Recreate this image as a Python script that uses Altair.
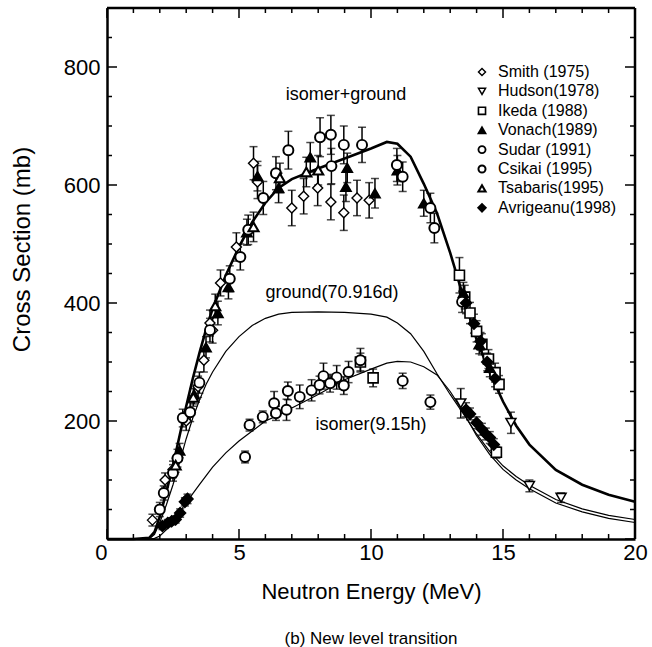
import altair as alt
import pandas as pd

# ---------------- model curves ----------------
E_curve = [0, 1.0, 1.6, 1.8, 2.0, 2.25, 2.5, 2.75, 3.0, 3.25, 3.5, 3.75, 4.0, 4.5, 5.0, 5.5,
           6.0, 6.5, 7.0, 8.0, 9.0, 10.0, 10.6, 11.0, 11.5, 12.0, 12.5, 13.0, 13.5, 14.0,
           14.5, 15.0, 15.5, 16.0, 17.0, 18.0, 19.0, 20.0]
sum_curve = [0, 0, 2, 12, 38, 80, 125, 175, 225, 272, 315, 355, 390, 447, 495, 537,
             570, 595, 610, 628, 645, 662, 673, 670, 648, 602, 552, 485, 410, 338,
             282, 233, 192, 160, 117, 92, 75, 63]
ground_curve = [0, 0, 0, 8, 28, 58, 92, 130, 170, 205, 235, 262, 283, 318, 343, 362,
                374, 381, 384, 385, 384, 381, 376, 366, 348, 318, 280, 245, 212, 178,
                148, 124, 106, 91, 67, 51, 40, 33]
isomer_curve = [0, 0, 0, 1, 5, 16, 30, 46, 61, 77, 92, 107, 122, 146, 166, 183,
                200, 210, 222, 245, 270, 288, 298, 301, 300, 292, 278, 250, 215, 175,
                143, 118, 100, 85, 61, 46, 35, 28]

# ---------------- experimental data ----------------
smith_E = [1.72, 2.2, 2.5, 3.0, 3.45, 3.67, 3.9, 4.0, 4.3, 4.9, 5.55, 5.7, 7.0, 7.45,
           7.98, 8.48, 8.97, 9.47, 9.93]
smith_S = [32, 100, 118, 200, 258, 303, 366, 354, 434, 495, 637, 605, 561, 581,
           595, 571, 553, 578, 574]
smith_D = [10, 12, 14, 16, 18, 20, 22, 22, 22, 24, 28, 28, 30, 30,
           30, 30, 30, 30, 30]

hudson_E = [13.4, 15.3, 16.0, 17.2]
hudson_S = [230, 197, 90, 70]
hudson_D = [25, 18, 10, 8]

ikeda_E = [9.6, 10.08, 13.35, 13.55, 13.75, 14.0, 14.2, 14.45, 14.7, 14.85, 14.75]
ikeda_S = [300, 273, 447, 410, 383, 352, 330, 305, 282, 262, 147]
ikeda_D = [15, 15, 30, 20, 18, 18, 18, 16, 16, 15, 10]

vonach_E = [2.75, 3.3, 3.75, 4.2, 4.6, 5.3, 5.7, 6.5, 7.7, 9.1, 9.05, 10.15, 11.0, 12.0,
            13.5, 14.1, 14.5]
vonach_S = [150, 245, 325, 383, 427, 520, 615, 595, 647, 629, 597, 586, 625, 569,
            417, 330, 290]
vonach_D = [12, 16, 18, 20, 20, 22, 25, 25, 25, 25, 25, 25, 25, 22,
            18, 16, 15]

sudar_E = [2.15, 2.87, 3.5, 3.9, 11.2, 13.45, 5.23, 6.33, 6.8, 7.3, 7.75, 8.2, 8.7, 9.15, 9.6]
sudar_S = [78, 205, 265, 354, 614, 402, 139, 230, 219, 241, 252, 276, 274, 283, 303]
sudar_D = [12, 15, 18, 20, 25, 18, 10, 20, 18, 20, 18, 22, 20, 18, 20]

csikai_E = [2.0, 2.5, 2.67, 3.15, 4.65, 5.05, 5.35, 5.92, 6.4, 6.87, 8.07, 8.5, 8.48, 8.97,
            9.66, 10.98, 12.25, 12.4, 5.4, 5.9, 6.4, 6.85, 8.05, 8.45, 8.97, 11.2, 12.25]
csikai_S = [50, 112, 137, 215, 441, 478, 524, 578, 620, 659, 681, 632, 685, 668,
            668, 634, 561, 527, 193, 207, 213, 251, 261, 264, 260, 268, 232]
csikai_D = [12, 14, 15, 16, 22, 22, 25, 28, 28, 32, 33, 30, 33, 32,
            30, 28, 25, 25, 10, 10, 12, 15, 15, 15, 15, 13, 12]

tsabaris_E = [2.6, 3.27, 4.1, 5.55, 6.55, 7.55, 8.0]
tsabaris_S = [125, 240, 395, 529, 612, 622, 625]
tsabaris_D = [12, 15, 20, 25, 25, 25, 25]

avrig_E = [2.1, 2.3, 2.45, 2.6, 2.77, 2.95, 3.05, 13.6, 13.75, 14.0, 14.2, 14.35, 14.5,
           14.65, 13.6, 13.9, 14.15, 14.4, 14.7]
avrig_S = [22, 27, 30, 33, 44, 63, 68, 219, 212, 197, 186, 178, 172,
           160, 400, 365, 335, 300, 272]
avrig_D = [6, 6, 6, 6, 7, 7, 8, 12, 10, 10, 10, 10, 10,
           10, 18, 16, 15, 15, 14]

series_names = ["Smith (1975)", "Hudson(1978)", "Ikeda  (1988)", "Vonach(1989)",
                "Sudar  (1991)", "Csikai (1995)", "Tsabaris(1995)", "Avrigeanu(1998)"]
series_shapes = ["diamond", "triangle-down", "square", "triangle-up",
                 "circle", "circle", "triangle-up", "diamond"]
series_fills = ["white", "white", "white", "black", "white", "white", "white", "black"]
series_widths = [1.4, 2.2, 1.4, 1.4, 3.0, 1.4, 1.4, 1.4]

# axis ranges and tick values (inward ticks on all four sides)
x_range = [0, 20]
y_range = [0, 900]
x_minor = list(range(0, 21))
x_major = [0, 5, 10, 15, 20]
y_minor = list(range(0, 901, 50))
y_major = [0, 200, 400, 600, 800]

# annotation labels
ann_text = ["isomer+ground", "ground(70.916d)", "isomer(9.15h)"]
ann_E = [9.05, 8.52, 10.0]
ann_S = [752, 417, 193]

# ---------------- layout constants ----------------
W, H = 528, 531
FONT = "Liberation Sans"
MINOR_PX, MAJOR_PX = 5, 10
x_per_px = (x_range[1] - x_range[0]) / W
y_per_px = (y_range[1] - y_range[0]) / H

# ---------------- tables ----------------
curves = pd.DataFrame({"E": E_curve, "sum": sum_curve, "ground": ground_curve,
                       "isomer": isomer_curve})

rows = []
for name, Es, Ss, Ds in zip(
        series_names,
        [smith_E, hudson_E, ikeda_E, vonach_E, sudar_E, csikai_E, tsabaris_E, avrig_E],
        [smith_S, hudson_S, ikeda_S, vonach_S, sudar_S, csikai_S, tsabaris_S, avrig_S],
        [smith_D, hudson_D, ikeda_D, vonach_D, sudar_D, csikai_D, tsabaris_D, avrig_D]):
    for e, s, d in zip(Es, Ss, Ds):
        rows.append({"series": name, "E": e, "S": s, "lo": s - d, "hi": s + d})
pts = pd.DataFrame(rows)
ann = pd.DataFrame({"E": ann_E, "S": ann_S, "t": ann_text})

# tick segments (in data units) for all four sides
xt = []
for v in x_minor:
    L = (MAJOR_PX if v in x_major else MINOR_PX) * y_per_px
    xt.append({"x": v, "x2": v, "y": y_range[0], "y2": y_range[0] + L})
    xt.append({"x": v, "x2": v, "y": y_range[1], "y2": y_range[1] - L})
for v in y_minor:
    L = (MAJOR_PX if v in y_major else MINOR_PX) * x_per_px
    xt.append({"x": x_range[0], "x2": x_range[0] + L, "y": v, "y2": v})
    xt.append({"x": x_range[1], "x2": x_range[1] - L, "y": v, "y2": v})
ticks_df = pd.DataFrame(xt)
frame_df = pd.DataFrame([
    {"x": x_range[0], "x2": x_range[1], "y": y_range[1], "y2": y_range[1]},
    {"x": x_range[1], "x2": x_range[1], "y": y_range[0], "y2": y_range[1]},
])

# ---------------- scales / axes ----------------
xs = alt.Scale(domain=x_range, nice=False, zero=False)
ys = alt.Scale(domain=y_range, nice=False, zero=False)

common = dict(grid=False, domainColor="black", domainWidth=2.5,
              labelColor="black", titleColor="black")

axA_x = alt.Axis(orient="bottom", values=x_major, ticks=False, tickSize=0,
                 labelFontSize=22, labelPadding=3, labelFont=FONT,
                 labelAlign={"condition": {"test": "datum.value === 0", "value": "right"},
                             "value": "center"},
                 title="Neutron Energy (MeV)", titleFontSize=22, titleFont=FONT,
                 titleFontWeight="normal", titlePadding=18, **common)
axA_y = alt.Axis(orient="left", values=y_major[1:], ticks=False, tickSize=0,
                 labelFontSize=22, labelPadding=7, labelFont=FONT,
                 title="Cross Section (mb)", titleFontSize=24, titleFont=FONT,
                 titleFontWeight="normal", titleX=-85, titleY=241,
                 titleBaseline="middle", titleAlign="center", titleAngle=270, **common)

# shared x / y encodings for the other layers (axis comes from the first layer)
def X(f):
    return alt.X(f, scale=xs)


def Y(f):
    return alt.Y(f, scale=ys)


base_c = alt.Chart(curves)
sum_line = base_c.mark_line(color="black", strokeWidth=2.6).encode(
    x=alt.X("E:Q", scale=xs, axis=axA_x), y=alt.Y("sum:Q", scale=ys, axis=axA_y))
ground_line = base_c.mark_line(color="black", strokeWidth=1.2).encode(
    x=X("E:Q"), y=Y("ground:Q"))
isomer_line = base_c.mark_line(color="black", strokeWidth=1.2).encode(
    x=X("E:Q"), y=Y("isomer:Q"))

tick_marks = alt.Chart(ticks_df).mark_rule(color="black", strokeWidth=1.5).encode(
    x=X("x:Q"), x2="x2:Q", y=Y("y:Q"), y2="y2:Q")
frame = alt.Chart(frame_df).mark_rule(color="black", strokeWidth=2.5).encode(
    x=X("x:Q"), x2="x2:Q", y=Y("y:Q"), y2="y2:Q")

base_p = alt.Chart(pts)
err = base_p.mark_rule(color="black", strokeWidth=1.5).encode(
    x=X("E:Q"), y=Y("lo:Q"), y2="hi:Q")
cap_lo = base_p.mark_tick(color="black", orient="horizontal", size=8, thickness=1.5).encode(
    x=X("E:Q"), y=Y("lo:Q"))
cap_hi = base_p.mark_tick(color="black", orient="horizontal", size=8, thickness=1.5).encode(
    x=X("E:Q"), y=Y("hi:Q"))

points = base_p.mark_point(filled=True, size=100, opacity=1).encode(
    x=X("E:Q"),
    y=Y("S:Q"),
    shape=alt.Shape("series:N", scale=alt.Scale(domain=series_names, range=series_shapes),
                    legend=alt.Legend(title=None)),
    fill=alt.Fill("series:N", scale=alt.Scale(domain=series_names, range=series_fills),
                  legend=alt.Legend(title=None)),
    stroke=alt.Stroke("series:N", scale=alt.Scale(domain=series_names,
                                                  range=["black"] * len(series_names)),
                      legend=alt.Legend(title=None)),
    strokeWidth=alt.StrokeWidth("series:N",
                                scale=alt.Scale(domain=series_names, range=series_widths),
                                legend=alt.Legend(title=None)),
)

labels = alt.Chart(ann).mark_text(font=FONT, fontSize=18, color="black").encode(
    x=X("E:Q"), y=Y("S:Q"), text="t:N")

chart = alt.layer(sum_line, ground_line, isomer_line, tick_marks, frame, err, cap_lo,
                  cap_hi, points, labels
).properties(
    width=W, height=H,
    autosize=alt.AutoSizeParams(type="none"),
    padding={"left": 107, "top": 8, "right": 17, "bottom": 108},
    title=alt.TitleParams("(b) New level transition", orient="bottom", anchor="middle",
                          fontSize=17, font=FONT, fontWeight="normal", color="black",
                          offset=29),
).configure_view(stroke=None).configure_legend(
    orient="none", legendX=367, legendY=56, padding=0, rowPadding=3.4,
    labelFontSize=16, labelFont=FONT, labelColor="black", symbolSize=50,
    labelOffset=8,
)

chart.save("out.html", embed_options={"renderer": "svg", "actions": False})
